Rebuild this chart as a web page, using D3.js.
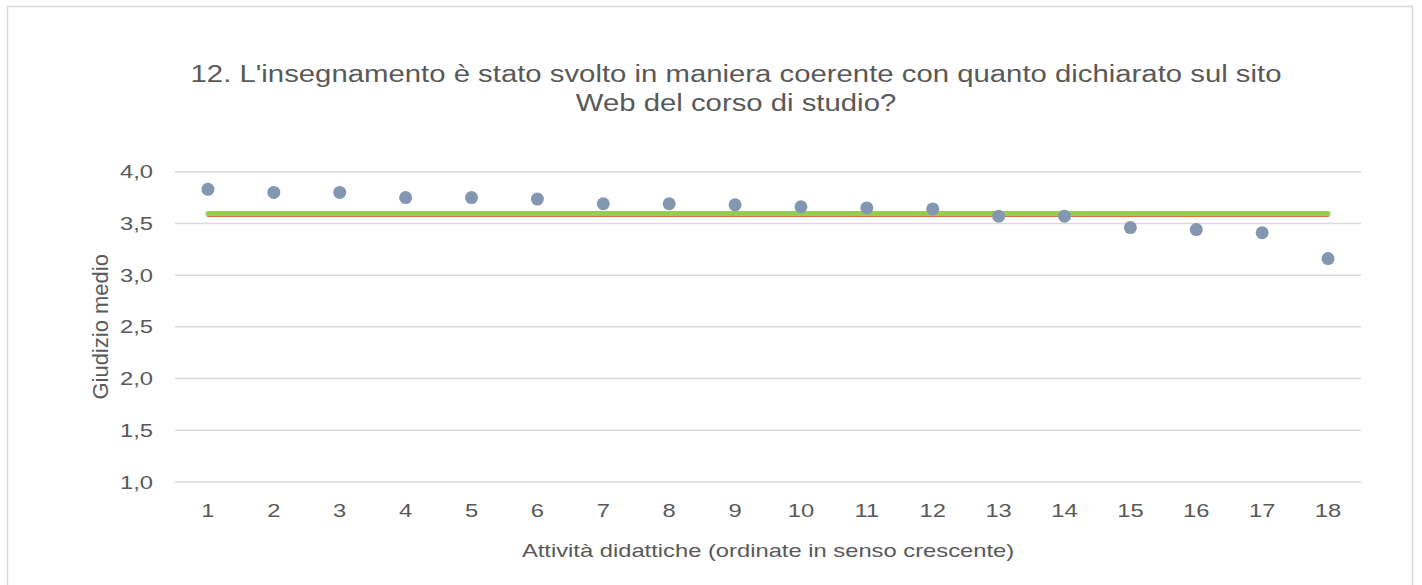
<!DOCTYPE html>
<html>
<head>
<meta charset="utf-8">
<script src="https://cdn.jsdelivr.net/npm/d3@7"></script>
<style>
  html, body { margin: 0; padding: 0; background: #ffffff; }
  svg { display: block; }
  text { font-family: "Liberation Sans", Arial, sans-serif; fill: #595959; }
</style>
</head>
<body>
<svg id="chart" width="1422" height="585"></svg>
<script>
const categories = ["1","2","3","4","5","6","7","8","9","10","11","12","13","14","15","16","17","18"];
const values = [3.83, 3.80, 3.80, 3.75, 3.75, 3.735, 3.69, 3.69, 3.68, 3.66, 3.65, 3.64, 3.57, 3.57, 3.46, 3.44, 3.41, 3.16];
const meanValue = 3.575;
const thresholdValue = 3.595;
const yTicks = [1.0, 1.5, 2.0, 2.5, 3.0, 3.5, 4.0];
const titleLines = ["12. L'insegnamento è stato svolto in maniera coerente con quanto dichiarato sul sito", "Web del corso di studio?"];
const xTitle = "Attività didattiche (ordinate in senso crescente)";
const yTitle = "Giudizio medio";

const svg = d3.select("#chart");
const plot = { left: 175, right: 1361, top: 171.7, bottom: 482 };
const SX = 1.25; // horizontal glyph stretch seen in the reference

// outer border
svg.append("rect")
  .attr("x", 7.5).attr("y", 6.5)
  .attr("width", 1405).attr("height", 590)
  .attr("fill", "#ffffff")
  .attr("stroke", "#d9d9d9").attr("stroke-width", 1.5);

const x = d3.scaleBand().domain(categories).range([plot.left, plot.right]);
const y = d3.scaleLinear().domain([1, 4]).range([plot.bottom, plot.top]);

// gridlines
svg.append("g").selectAll("line").data(yTicks).join("line")
  .attr("x1", plot.left).attr("x2", plot.right)
  .attr("y1", d => y(d)).attr("y2", d => y(d))
  .attr("stroke", "#d9d9d9").attr("stroke-width", 1.5);

// y axis labels
const fmt = d => d3.format(".1f")(d).replace(".", ",");
const yPad = 22;
const yAxis = d3.axisLeft(y).tickValues(yTicks).tickFormat(fmt).tickSize(0).tickPadding(yPad);
const gy = svg.append("g").attr("transform", `translate(${plot.left},0)`).call(yAxis);
gy.select(".domain").remove();
gy.selectAll("text").attr("font-size", 19).attr("fill", "#595959")
  .attr("font-family", "Liberation Sans, Arial, sans-serif")
  .attr("x", -yPad / SX)
  .attr("transform", `scale(${SX},1)`);

// x axis labels
const xAxis = d3.axisBottom(x).tickSize(0).tickPadding(22);
const gx = svg.append("g").attr("transform", `translate(0,${plot.bottom})`).call(xAxis);
gx.select(".domain").remove();
gx.selectAll("text").attr("font-size", 19).attr("fill", "#595959")
  .attr("font-family", "Liberation Sans, Arial, sans-serif")
  .attr("transform", `scale(${SX},1)`);

// mean line (orange, under)
const xFirst = x(categories[0]) + x.bandwidth() / 2;
const xLast = x(categories[categories.length - 1]) + x.bandwidth() / 2;
svg.append("line")
  .attr("x1", xFirst).attr("x2", xLast)
  .attr("y1", y(meanValue)).attr("y2", y(meanValue))
  .attr("stroke", "#e46c3a").attr("stroke-width", 2.5).attr("stroke-linecap", "round");
// green line
svg.append("line")
  .attr("x1", xFirst).attr("x2", xLast)
  .attr("y1", y(thresholdValue)).attr("y2", y(thresholdValue))
  .attr("stroke", "#92d050").attr("stroke-width", 5).attr("stroke-linecap", "round");

// points
svg.append("g").selectAll("circle").data(values).join("circle")
  .attr("cx", (d, i) => x(categories[i]) + x.bandwidth() / 2)
  .attr("cy", d => y(d))
  .attr("r", 6.5)
  .attr("fill", "#8497b0");

// title
const title = svg.append("text").attr("text-anchor", "middle").attr("font-size", 23)
  .attr("transform", `translate(736,0) scale(1.275,1)`);
titleLines.forEach((t, i) => {
  title.append("tspan").attr("x", 0).attr("y", 82 + i * 29).text(t);
});

// axis titles
svg.append("text").attr("transform", `translate(768,557) scale(${SX},1)`).attr("text-anchor", "middle")
  .attr("font-size", 19).text(xTitle);
svg.append("text").attr("transform", `translate(108,${(plot.top + plot.bottom) / 2}) rotate(-90)`)
  .attr("text-anchor", "middle").attr("font-size", 22).text(yTitle);
</script>
</body>
</html>
